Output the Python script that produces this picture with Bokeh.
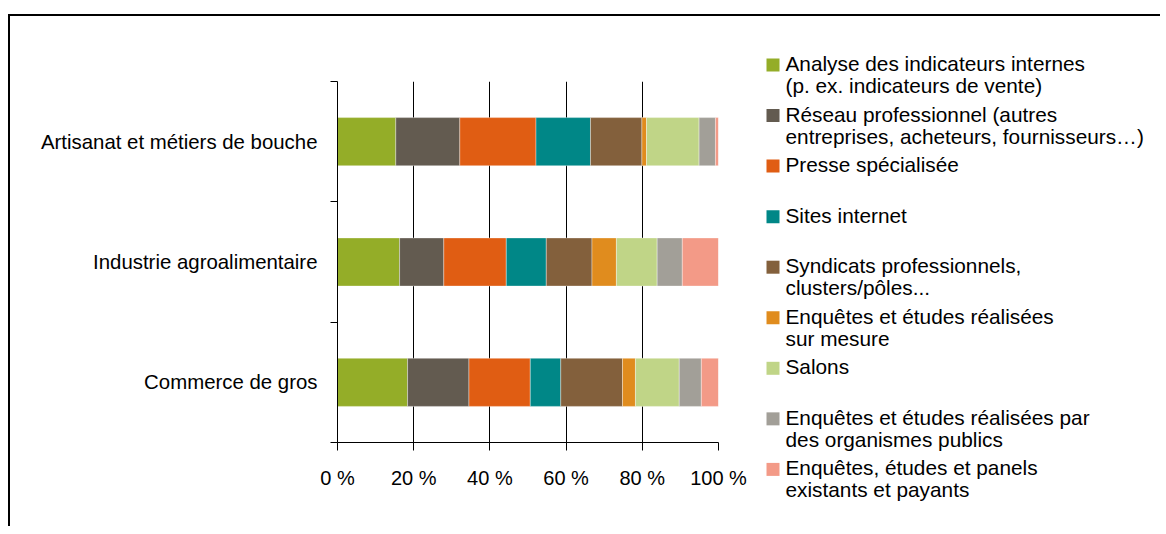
from bokeh.plotting import figure
from bokeh.layouts import row
from bokeh.models import Range1d, FixedTicker, ColumnDataSource
from bokeh.core.properties import value
from bokeh.embed import file_html
from bokeh.resources import INLINE

# ---------------- data ----------------
categories = ["Artisanat et métiers de bouche", "Industrie agroalimentaire", "Commerce de gros"]

series_names = [
    "Analyse des indicateurs internes\n(p. ex. indicateurs de vente)",
    "Réseau professionnel (autres\nentreprises, acheteurs, fournisseurs…)",
    "Presse spécialisée",
    "Sites internet",
    "Syndicats professionnels,\nclusters/pôles...",
    "Enquêtes et études réalisées\nsur mesure",
    "Salons",
    "Enquêtes et études réalisées par\ndes organismes publics",
    "Enquêtes, études et panels\nexistants et payants",
]

analyse = [15.3, 16.3, 18.4]
reseau = [16.8, 11.6, 16.1]
presse = [20.0, 16.4, 16.1]
sites = [14.3, 10.5, 8.0]
syndicats = [13.5, 12.0, 16.2]
enquetes_mesure = [1.2, 6.4, 3.4]
salons = [13.8, 10.7, 11.5]
enquetes_publics = [4.3, 6.6, 5.8]
enquetes_payants = [0.8, 9.5, 4.5]

x_ticks = [0, 20, 40, 60, 80, 100]
x_tick_labels = ["0 %", "20 %", "40 %", "60 %", "80 %", "100 %"]

colors = ["#94ad28", "#635b50", "#e05d13", "#008787", "#83603c",
          "#e08c1e", "#c0d587", "#a29f98", "#f39a87"]

# ---------------- build ----------------
FONT = "Liberation Sans"
series_values = [analyse, reseau, presse, sites, syndicats,
                 enquetes_mesure, salons, enquetes_publics, enquetes_payants]
keys = [f"s{i}" for i in range(len(series_values))]
n = len(categories)
ypos = [n - i - 0.5 for i in range(n)]

data = {"y": ypos}
for k, vals in zip(keys, series_values):
    data[k] = vals
source = ColumnDataSource(data)

CW, H = 740, 510
p = figure(width=CW, height=H, x_range=Range1d(0, 100), y_range=Range1d(0, n),
           output_backend="svg", toolbar_location=None,
           min_border_left=327, min_border_right=CW - 708,
           min_border_top=65, min_border_bottom=H - 426)
p.outline_line_color = None
p.background_fill_color = "white"
p.border_fill_color = "white"

p.hbar_stack(keys, y="y", height=0.4, fill_color=colors, line_color="white",
             line_width=0.6, line_alpha=0.6, source=source)

# x axis
xt = FixedTicker(ticks=x_ticks)
p.xaxis.ticker = xt
p.xgrid.ticker = xt
p.xaxis.major_label_overrides = {t: lab for t, lab in zip(x_ticks, x_tick_labels)}
p.xaxis.major_tick_out = 8
p.xaxis.major_tick_in = 0
p.xaxis.minor_tick_out = 0
p.xaxis.minor_tick_in = 0
p.xaxis.axis_line_color = "#000000"
p.xaxis.major_tick_line_color = "#000000"
p.xaxis.major_label_standoff = 16
p.xaxis.major_label_text_font = FONT
p.xaxis.major_label_text_font_size = "20px"
p.xaxis.major_label_text_color = "#000000"
p.xgrid.grid_line_color = "#000000"
p.xgrid.grid_line_width = 1

# y axis
yt = FixedTicker(ticks=ypos, minor_ticks=list(range(n + 1)))
p.yaxis.ticker = yt
p.yaxis.major_label_overrides = {y: c for y, c in zip(ypos, categories)}
p.yaxis.major_tick_out = 0
p.yaxis.major_tick_in = 0
p.yaxis.minor_tick_out = 7
p.yaxis.minor_tick_in = 0
p.yaxis.axis_line_color = "#000000"
p.yaxis.minor_tick_line_color = "#000000"
p.yaxis.major_label_standoff = 13
p.yaxis.major_label_text_font = FONT
p.yaxis.major_label_text_font_size = "20.4px"
p.yaxis.major_label_text_color = "#000000"
p.ygrid.visible = False

# ---------------- legend panel ----------------
LW = 1150 - CW
leg = figure(width=LW, height=H, x_range=Range1d(0, LW), y_range=Range1d(H, 0),
             output_backend="svg", toolbar_location=None,
             x_axis_type=None, y_axis_type=None,
             min_border_left=0, min_border_right=0, min_border_top=0, min_border_bottom=0)
leg.outline_line_color = None
leg.grid.visible = False

for fig in (p, leg):
    if "frame_align" in fig.properties():
        fig.frame_align = False

first_y = 48.5
step = 50.55
item_y = [first_y + i * step for i in range(len(series_names))]
leg.rect(x=[22.5] * len(item_y), y=item_y, width=13, height=13,
         width_units="screen", height_units="screen",
         fill_color=colors, line_color=None)
leg.text(x=[35] * len(item_y), y=[yy - 13 for yy in item_y], text=series_names,
         text_font=value(FONT), text_font_size="20.8px", text_color="#000000",
         text_baseline="top", text_align="left", text_line_height=0.96)

layout = row(p, leg, styles={"border-top": "2px solid #000000",
                             "border-left": "2px solid #000000",
                             "margin-top": "14px", "margin-left": "8px"})

open("out.html", "w").write(file_html(layout, INLINE))
